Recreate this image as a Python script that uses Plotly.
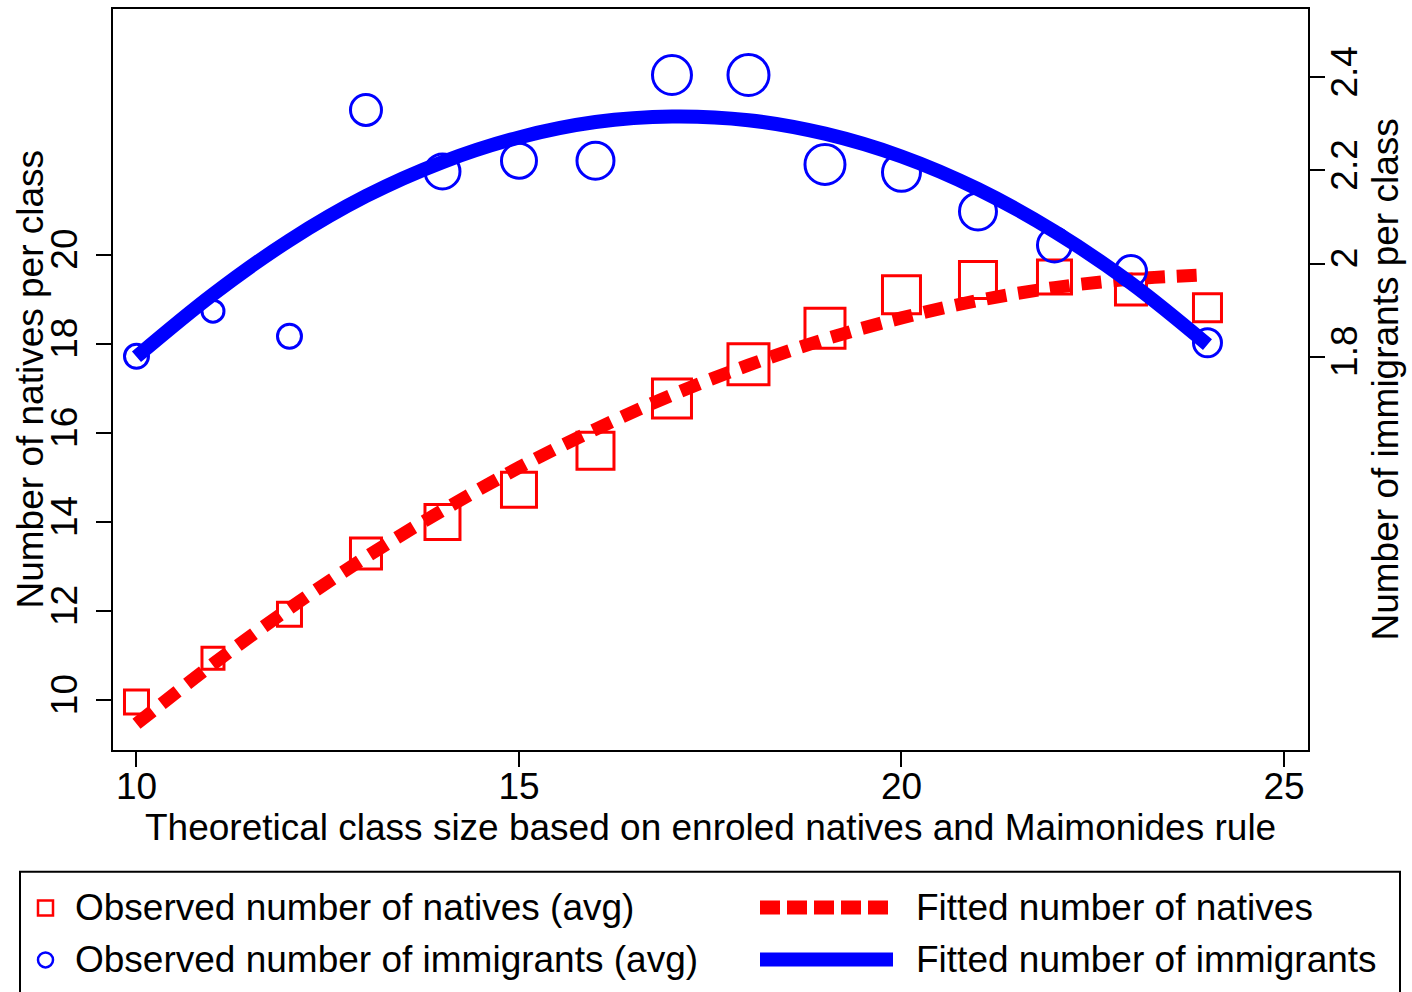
import plotly.graph_objects as go

# ---- data ----
class_size = [10, 11, 12, 13, 14, 15, 16, 17, 18, 19, 20, 21, 22, 23, 24]
natives_obs = [9.96, 10.94, 11.93, 13.29, 14.00, 14.72, 15.60, 16.77, 17.54, 18.35, 19.10, 19.43, 19.50, 19.22, 18.81]
immig_obs = [1.801, 1.898, 1.844, 2.330, 2.198, 2.221, 2.221, 2.405, 2.405, 2.213, 2.196, 2.112, 2.040, 1.984, 1.830]
natives_fit = [9.47, 10.81, 12.06, 13.21, 14.26, 15.22, 16.08, 16.85, 17.52, 18.10, 18.58, 18.97, 19.26, 19.45, 19.55]
immig_fit = [1.800, 1.934, 2.050, 2.145, 2.218, 2.271, 2.304, 2.316, 2.308, 2.279, 2.230, 2.160, 2.069, 1.958, 1.826]

x_ticks = [10, 15, 20, 25]
left_ticks = [10, 12, 14, 16, 18, 20]
right_ticks = [1.8, 2.0, 2.2, 2.4]
right_tick_text = ["1.8", "2", "2.2", "2.4"]

# ---- styles ----
marker_outer = [27, 25, 27, 34, 38, 38, 40, 42, 44, 43, 41, 40, 37, 34, 31]
MLW = 3
marker_sizes = [s - MLW for s in marker_outer]
FONT = "Liberation Sans, Arial, Helvetica, sans-serif"
FS = 37
RED = "#ff0000"
BLUE = "#0000ff"

W, H = 1412, 992
L, R, T, B = 113, 104, 7, 242
PW = W - L - R
PH = H - T - B


def px_x(p):
    return (p - L) / PW


def px_y(p):
    return (H - B - p) / PH


fig = go.Figure()

fig.add_trace(go.Scatter(
    x=class_size, y=natives_obs, mode="markers", yaxis="y",
    marker=dict(symbol="square-open", size=marker_sizes, color=RED, opacity=1,
                line=dict(width=MLW, color=RED)),
    showlegend=False, name="Observed number of natives (avg)"))
fig.add_trace(go.Scatter(
    x=class_size, y=natives_fit, mode="lines", yaxis="y",
    line=dict(color=RED, width=13, dash="20px,12px", shape="spline"),
    showlegend=False, name="Fitted number of natives"))
fig.add_trace(go.Scatter(
    x=class_size, y=immig_obs, mode="markers", yaxis="y2",
    marker=dict(symbol="circle-open", size=marker_sizes, color=BLUE, opacity=1,
                line=dict(width=MLW, color=BLUE)),
    showlegend=False, name="Observed number of immigrants (avg)"))
fig.add_trace(go.Scatter(
    x=class_size, y=immig_fit, mode="lines", yaxis="y2",
    line=dict(color=BLUE, width=14, shape="spline"),
    showlegend=False, name="Fitted number of immigrants"))

axis_common = dict(showgrid=False, zeroline=False, showline=True, linecolor="black",
                   linewidth=2, ticks="outside", ticklen=15, tickwidth=2,
                   tickcolor="black", tickfont=dict(family=FONT, size=FS, color="black"))

fig.update_layout(
    width=W, height=H, autosize=False,
    margin=dict(l=L, r=R, t=T, b=B, pad=0),
    paper_bgcolor="white", plot_bgcolor="white",
    font=dict(family=FONT, size=FS, color="black"),
    showlegend=False,
    xaxis=dict(range=[9.693, 25.314], tickvals=x_ticks, mirror=True,
               ticklabelstandoff=-12, **axis_common),
    yaxis=dict(range=[8.881, 25.514], tickvals=left_ticks, tickangle=-90,
               ticklabelstandoff=4, **axis_common),
    yaxis2=dict(range=[0.9557, 2.5467], tickvals=right_ticks, ticktext=right_tick_text,
                tickangle=-90, overlaying="y", side="right",
                ticklabelstandoff=-12, **axis_common),
)

ann_font = dict(family=FONT, size=FS, color="black")
annotations = [
    dict(text="Theoretical class size based on enroled natives and Maimonides rule",
         x=0.5, y=px_y(828), xanchor="center", yanchor="middle"),
    dict(text="Number of natives per class", x=px_x(30), y=0.5, textangle=-90,
         xanchor="center", yanchor="middle"),
    dict(text="Number of immigrants per class", x=px_x(1385), y=0.5, textangle=-90,
         xanchor="center", yanchor="middle"),
    dict(text="Observed number of natives (avg)", x=px_x(73), y=px_y(908),
         xanchor="left", yanchor="middle"),
    dict(text="Observed number of immigrants (avg)", x=px_x(73), y=px_y(960),
         xanchor="left", yanchor="middle"),
    dict(text="Fitted number of natives", x=px_x(914), y=px_y(908),
         xanchor="left", yanchor="middle"),
    dict(text="Fitted number of immigrants", x=px_x(914), y=px_y(960),
         xanchor="left", yanchor="middle"),
]
for a in annotations:
    a.update(xref="paper", yref="paper", showarrow=False, font=ann_font)
fig.update_layout(annotations=annotations)

shapes = [
    # legend frame
    dict(type="rect", x0=px_x(20), x1=px_x(1400), y0=px_y(872), y1=px_y(1010),
         line=dict(color="black", width=2), fillcolor="rgba(0,0,0,0)"),
    # legend square sample
    dict(type="rect", x0=px_x(38), x1=px_x(53), y0=px_y(901), y1=px_y(916),
         line=dict(color=RED, width=2.5), fillcolor="rgba(0,0,0,0)"),
    # legend circle sample
    dict(type="circle", x0=px_x(38), x1=px_x(53), y0=px_y(953), y1=px_y(968),
         line=dict(color=BLUE, width=2.5), fillcolor="rgba(0,0,0,0)"),
    # legend dashed line sample
    dict(type="line", x0=px_x(760), x1=px_x(893), y0=px_y(908), y1=px_y(908),
         line=dict(color=RED, width=14, dash="20px,7px")),
    # legend solid line sample
    dict(type="line", x0=px_x(760), x1=px_x(893), y0=px_y(960), y1=px_y(960),
         line=dict(color=BLUE, width=14)),
]
for s in shapes:
    s.update(xref="paper", yref="paper")
fig.update_layout(shapes=shapes)

fig.write_html(
    "out.html",
    config={"displayModeBar": False},
    post_script="document.body.style.margin='0';document.body.style.overflow='hidden';",
)
